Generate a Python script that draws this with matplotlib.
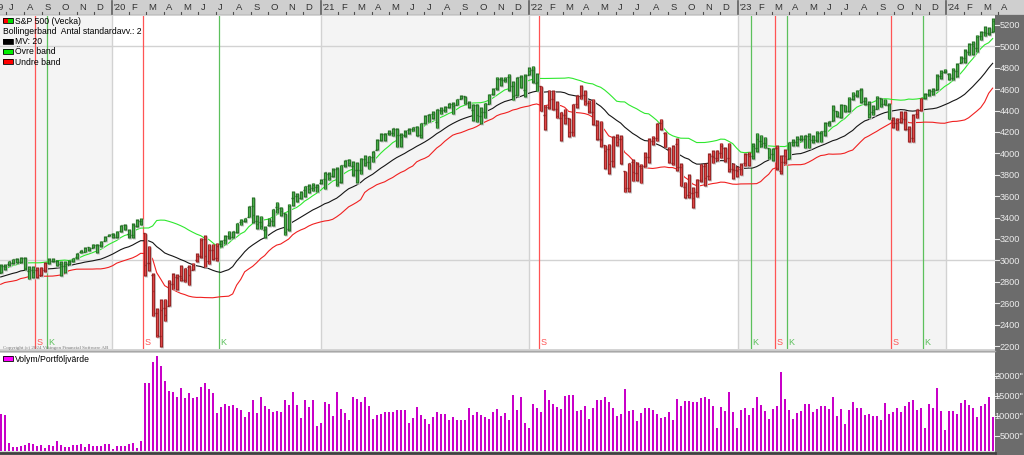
import numpy as np
import pandas as pd
import matplotlib
matplotlib.use('Agg')
import matplotlib.pyplot as plt
import matplotlib.dates as mdates
from matplotlib.patches import Rectangle
from matplotlib.lines import Line2D
from matplotlib.transforms import blended_transform_factory

plt.rcParams['font.family'] = ['Liberation Sans', 'DejaVu Sans']

# S&P 500, weekly bars (week ending Friday)
first_week = '2019-06-21'

# closes of the 19 weeks before the first bar, only used to start the bands
pre_close = [2708, 2776, 2793, 2804, 2743, 2822, 2801, 2834, 2893, 2907,
             2905, 2940, 2946, 2881, 2860, 2826, 2752, 2873, 2887]

open_ = [2886, 2952, 2971, 2980, 3017, 2982, 3024, 2898, 2907, 2913,
         2866, 2910, 2980, 2996, 2991, 2967, 2944, 2965, 2996, 3031,
         3078, 3080, 3123, 3117, 3143, 3142, 3183, 3227, 3247, 3218,
         3273, 3333, 3248, 3235, 3318, 3370, 3258, 2974, 2863, 2509,
         2290, 2555, 2578, 2782, 2845, 2854, 2815, 2937, 2914, 3004,
         3038, 3199, 2993, 3094, 3018, 3155, 3191, 3224, 3219, 3270,
         3356, 3368, 3402, 3508, 3370, 3363, 3285, 3334, 3367, 3500,
         3493, 3441, 3296, 3583, 3600, 3579, 3654, 3698, 3675, 3684,
         3723, 3764, 3803, 3791, 3856, 3731, 3893, 3939, 3885, 3842,
         3844, 3943, 3917, 3969, 4034, 4125, 4185, 4193, 4191, 4229,
         4169, 4168, 4216, 4229, 4248, 4174, 4285, 4356, 4372, 4296,
         4409, 4406, 4438, 4464, 4450, 4513, 4536, 4469, 4402, 4448,
         4348, 4385, 4463, 4553, 4610, 4697, 4689, 4712, 4633, 4549,
         4710, 4588, 4733, 4778, 4655, 4632, 4356, 4432, 4505, 4412,
         4332, 4363, 4328, 4202, 4462, 4541, 4547, 4474, 4385, 4270,
         4130, 4082, 4039, 3928, 4151, 4135, 3838, 3675, 3920, 3815,
         3880, 3883, 3966, 4113, 4140, 4281, 4195, 4041, 3910, 4084,
         3875, 3682, 3609, 3630, 3638, 3753, 3881, 3788, 3978, 3956,
         4006, 4053, 3954, 3853, 3843, 3853, 3911, 3999, 3979, 4053,
         4120, 4097, 4053, 3992, 4055, 3835, 3916, 3950, 4102, 4110,
         4137, 4132, 4166, 4124, 4127, 4191, 4205, 4282, 4304, 4396,
         4344, 4450, 4398, 4505, 4543, 4588, 4492, 4460, 4389, 4415,
         4515, 4463, 4454, 4310, 4284, 4289, 4320, 4226, 4140, 4364,
         4407, 4516, 4555, 4587, 4593, 4725, 4758, 4745, 4703, 4772,
         4848, 4892, 4950, 5026, 4989, 5094, 5132, 5124, 5139]

high = [2964, 2964, 2996, 3017, 3020, 3028, 3028, 2945, 2943, 2939,
        2941, 2985, 3021, 3022, 3002, 2993, 2993, 3003, 3027, 3067,
        3098, 3121, 3128, 3155, 3155, 3183, 3226, 3248, 3258, 3276,
        3330, 3338, 3294, 3347, 3385, 3393, 3260, 3137, 2882, 2555,
        2637, 2641, 2818, 2880, 2869, 2955, 2933, 2954, 2980, 3068,
        3211, 3233, 3156, 3155, 3165, 3190, 3238, 3279, 3272, 3352,
        3388, 3400, 3509, 3588, 3425, 3419, 3320, 3398, 3482, 3550,
        3502, 3441, 3529, 3646, 3628, 3645, 3699, 3712, 3727, 3712,
        3760, 3827, 3823, 3861, 3871, 3894, 3937, 3950, 3929, 3915,
        3960, 3983, 3978, 4020, 4130, 4191, 4194, 4218, 4238, 4236,
        4187, 4219, 4234, 4249, 4257, 4287, 4356, 4372, 4394, 4415,
        4430, 4441, 4469, 4481, 4513, 4545, 4536, 4486, 4465, 4466,
        4429, 4475, 4559, 4608, 4718, 4714, 4718, 4744, 4672, 4713,
        4731, 4740, 4808, 4819, 4749, 4632, 4454, 4595, 4590, 4489,
        4389, 4416, 4329, 4465, 4546, 4637, 4593, 4500, 4513, 4309,
        4307, 4082, 4091, 4158, 4177, 4168, 3838, 3913, 3946, 3919,
        3903, 4012, 4140, 4167, 4281, 4325, 4203, 4062, 4077, 4140,
        3907, 3736, 3806, 3685, 3762, 3902, 3911, 4001, 4028, 4034,
        4101, 4060, 4101, 3906, 3878, 3906, 4003, 4015, 4095, 4195,
        4176, 4156, 4053, 4048, 4079, 3981, 4039, 4110, 4133, 4163,
        4169, 4170, 4186, 4170, 4213, 4212, 4290, 4299, 4448, 4400,
        4458, 4456, 4528, 4578, 4594, 4607, 4527, 4490, 4448, 4541,
        4518, 4511, 4469, 4339, 4333, 4394, 4393, 4256, 4366, 4415,
        4521, 4562, 4598, 4609, 4738, 4778, 4793, 4755, 4802, 4842,
        4907, 4975, 5030, 5048, 5111, 5140, 5190, 5180, 5261]

low = [2882, 2912, 2952, 2967, 2975, 2976, 2914, 2822, 2840, 2835,
       2856, 2891, 2964, 2985, 2946, 2856, 2884, 2960, 2984, 3013,
       3066, 3076, 3091, 3115, 3070, 3125, 3180, 3226, 3212, 3214,
       3263, 3280, 3214, 3214, 3315, 3328, 2855, 2902, 2479, 2280,
       2192, 2431, 2575, 2729, 2727, 2812, 2797, 2766, 2914, 2987,
       3025, 2936, 2965, 3007, 2999, 3128, 3152, 3200, 3205, 3260,
       3329, 3359, 3401, 3349, 3293, 3292, 3209, 3323, 3323, 3440,
       3419, 3234, 3279, 3511, 3543, 3570, 3594, 3633, 3647, 3636,
       3718, 3663, 3750, 3784, 3694, 3725, 3874, 3885, 3789, 3723,
       3805, 3885, 3853, 3917, 4034, 4118, 4118, 4170, 4160, 4056,
       4061, 4155, 4183, 4206, 4164, 4144, 4272, 4292, 4321, 4233,
       4367, 4385, 4424, 4367, 4450, 4513, 4457, 4427, 4305, 4289,
       4279, 4329, 4459, 4546, 4595, 4630, 4663, 4585, 4496, 4532,
       4607, 4531, 4733, 4662, 4582, 4395, 4223, 4414, 4401, 4327,
       4115, 4279, 4157, 4161, 4425, 4507, 4450, 4381, 4267, 4125,
       4062, 3858, 3810, 3876, 4073, 3900, 3637, 3640, 3738, 3742,
       3722, 3871, 3911, 4080, 4112, 4218, 4057, 3907, 3887, 3837,
       3693, 3585, 3584, 3491, 3590, 3733, 3699, 3753, 3906, 3933,
       3956, 3919, 3827, 3764, 3784, 3795, 3878, 3885, 3950, 4015,
       4060, 4048, 3943, 3928, 3846, 3809, 3899, 3950, 4069, 4072,
       4114, 4049, 4048, 4099, 4109, 4103, 4166, 4255, 4304, 4340,
       4329, 4385, 4390, 4502, 4527, 4474, 4456, 4335, 4356, 4411,
       4430, 4448, 4320, 4238, 4217, 4284, 4223, 4104, 4103, 4329,
       4393, 4510, 4537, 4546, 4593, 4695, 4751, 4682, 4682, 4714,
       4845, 4845, 4918, 4920, 4946, 5057, 5093, 5104, 5138]

close = [2950, 2942, 2990, 3014, 2977, 3026, 2932, 2919, 2889, 2847,
         2926, 2979, 3007, 2992, 2961, 2952, 2970, 2986, 3023, 3067,
         3093, 3120, 3110, 3141, 3146, 3169, 3221, 3240, 3235, 3265,
         3330, 3295, 3226, 3328, 3380, 3338, 2954, 2972, 2711, 2305,
         2541, 2489, 2790, 2875, 2837, 2831, 2930, 2864, 2955, 3044,
         3194, 3041, 3098, 3009, 3130, 3185, 3225, 3216, 3271, 3351,
         3373, 3397, 3508, 3427, 3341, 3319, 3298, 3348, 3477, 3483,
         3465, 3270, 3509, 3585, 3558, 3638, 3699, 3663, 3709, 3703,
         3756, 3825, 3768, 3841, 3714, 3887, 3934, 3907, 3811, 3842,
         3943, 3913, 3975, 4020, 4129, 4185, 4180, 4181, 4233, 4174,
         4156, 4204, 4230, 4247, 4166, 4281, 4352, 4370, 4327, 4412,
         4395, 4437, 4468, 4442, 4509, 4535, 4459, 4433, 4455, 4357,
         4391, 4471, 4545, 4605, 4697, 4683, 4698, 4595, 4538, 4712,
         4621, 4726, 4766, 4677, 4663, 4398, 4432, 4501, 4419, 4349,
         4385, 4329, 4204, 4463, 4543, 4546, 4488, 4393, 4272, 4132,
         4123, 4024, 3901, 4158, 4109, 3901, 3675, 3912, 3825, 3899,
         3863, 3962, 4130, 4145, 4280, 4228, 4058, 3924, 4067, 3873,
         3693, 3586, 3640, 3583, 3753, 3901, 3771, 3993, 3965, 4026,
         4072, 3934, 3852, 3845, 3840, 3895, 3999, 3973, 4071, 4136,
         4090, 4079, 3970, 4046, 3862, 3917, 3971, 4109, 4105, 4138,
         4133, 4169, 4136, 4124, 4192, 4205, 4282, 4299, 4410, 4348,
         4450, 4399, 4505, 4536, 4582, 4478, 4464, 4370, 4406, 4516,
         4457, 4450, 4320, 4288, 4308, 4327, 4224, 4117, 4358, 4415,
         4514, 4559, 4595, 4604, 4719, 4755, 4770, 4697, 4784, 4840,
         4891, 4959, 5027, 5006, 5089, 5137, 5124, 5117, 5234]

volume = [10500, 10250, 3250, 2170, 2340, 2510, 2840, 3250, 2920, 2590,
          2670, 2090, 2670, 2590, 3760, 2670, 2340, 2340, 2750, 2750,
          2920, 2340, 2920, 2510, 2510, 2510, 2920, 2920, 1760, 2590,
          2510, 2510, 2920, 3250, 2090, 3670, 18250, 18250, 23580, 24920,
          22500, 18830, 16250, 16090, 14840, 16920, 14500, 15750, 14500, 14670,
          17250, 18250, 16670, 15840, 10670, 12250, 12920, 12500, 12670, 12000,
          11420, 9670, 10920, 13920, 10670, 14670, 12420, 11670, 11000, 11250,
          11090, 13920, 12670, 15920, 12670, 9500, 14090, 12250, 13920, 7500,
          8250, 13500, 12920, 9920, 15920, 11670, 10670, 8920, 14670, 14250,
          13500, 14670, 12420, 9250, 10250, 10500, 10920, 11090, 10920, 11420,
          11420, 11420, 8250, 9500, 12250, 10250, 9250, 7920, 9670, 11090,
          10420, 10420, 8920, 9670, 8920, 9090, 8920, 12090, 10250, 11090,
          10250, 9670, 9250, 10920, 11670, 10080, 10670, 8920, 15250, 11500,
          14840, 8250, 7090, 12920, 12090, 11090, 16500, 14090, 13090, 12250,
          11670, 15090, 15250, 15250, 11250, 11500, 12500, 9250, 12090, 13920,
          13920, 14670, 13500, 11920, 10080, 10420, 16670, 11250, 11500, 8670,
          10670, 11920, 12090, 11500, 10500, 9500, 9670, 11090, 8920, 14250,
          12500, 13670, 13670, 13500, 13500, 14420, 14670, 14250, 12500, 6920,
          12250, 11250, 15920, 10920, 7090, 11500, 11920, 10250, 12090, 14670,
          12670, 11250, 9250, 11670, 12500, 20920, 14250, 11500, 9250, 10670,
          11250, 12920, 12920, 11090, 11670, 12500, 12500, 11670, 14670, 10080,
          11670, 7920, 11500, 13500, 11920, 11920, 10250, 10500, 9920, 9920,
          8920, 13250, 10500, 11090, 12090, 11090, 12500, 13500, 13920, 11500,
          12090, 7090, 12920, 12090, 17090, 11250, 6500, 11250, 11250, 10420,
          13250, 13920, 12670, 12090, 9670, 12500, 13090, 14840, 9670]

# signal weeks (bar index): S = sell, K = buy
sell_weeks = [9, 36, 135, 194, 223]
buy_weeks = [12, 55, 188, 197, 231]

mv_period = 20
band_width = 1.0   # the drawn bands sit one standard deviation from the MV line

price_ticks = list(range(2200, 5201, 200))
vol_ticks = [20000, 15000, 10000, 5000]
month_letters = ['J', 'F', 'M', 'A', 'M', 'J', 'J', 'A', 'S', 'O', 'N', 'D']

# ---------------------------------------------------------------
dates = pd.date_range(first_week, periods=len(close), freq='7D')
x = mdates.date2num(dates)

allc = pd.Series(pre_close + close, dtype=float)
n_pre = len(pre_close)
mv = allc.rolling(mv_period).mean().values[n_pre:]
sd = allc.rolling(mv_period).std(ddof=0).values[n_pre:]
upper = mv + band_width * sd
lower = mv - band_width * sd

W, H = 1024, 456
fig = plt.figure(figsize=(W / 100, H / 100), dpi=100, facecolor='#d4d4d4')


def rect(x0, y0, x1, y1):
    return [x0 / W, 1 - y1 / H, (x1 - x0) / W, (y1 - y0) / H]


DPX = 7 / 4.0  # days per pixel
xl = x[0] - 0.67 * DPX
xr_main = xl + 995 * DPX
xr_full = xl + W * DPX

ax = fig.add_axes(rect(0, 17, 995, 350))
axv = fig.add_axes(rect(0, 354, 995, 452))
axt = fig.add_axes(rect(0, 0, W, 16))
axr = fig.add_axes(rect(995, 16, W, H))

for a in (ax, axv, axt, axr):
    a.set_xticks([])
    a.set_yticks([])
    for s in a.spines.values():
        s.set_visible(False)

# ---- main price panel ----
ax.set_facecolor('white')
ax.set_xlim(xl, xr_main)
ax.set_ylim(2172, 5284)

for yr in range(2019, 2025):
    y0 = mdates.date2num(pd.Timestamp(f'{yr}-01-01'))
    y1 = mdates.date2num(pd.Timestamp(f'{yr + 1}-01-01'))
    if yr % 2 == 1:
        ax.axvspan(y0, y1, color='#f4f4f4', lw=0, zorder=0)
    if yr > 2019:
        ax.axvline(y0, color='#d2d2d2', lw=1, zorder=1)
for lvl in (3000, 5000):
    ax.axhline(lvl, color='#d2d2d2', lw=1, zorder=1)

# signal lines
sig_red, sig_green = '#ff5454', '#5cc05c'
for i in sell_weeks:
    xs = x[i] - 2 * DPX
    ax.axvline(xs, color=sig_red, lw=0.9, zorder=2)
    ax.text(xs + 1.5 * DPX, 2238, 'S', color=sig_red, fontsize=6.5, va='center', ha='left', zorder=6)
for i in buy_weeks:
    xs = x[i] - 2 * DPX
    ax.axvline(xs, color=sig_green, lw=0.9, zorder=2)
    ax.text(xs + 1.5 * DPX, 2238, 'K', color=sig_green, fontsize=6.5, va='center', ha='left', zorder=6)

# bollinger bands
ax.plot(x, upper, color='#2ee82e', lw=0.8, zorder=3)
ax.plot(x, mv, color='#151515', lw=0.8, zorder=3)
ax.plot(x, lower, color='#f02020', lw=0.8, zorder=3)

# bar colours follow the signals
state = 'buy'
body, edge = [], []
for i in range(len(close)):
    if i in sell_weeks:
        state = 'sell'
    if i in buy_weeks:
        state = 'buy'
    if state == 'buy':
        body.append('#4cb04c'); edge.append('#226a22')
    else:
        body.append('#e04848'); edge.append('#8c2020')

o = np.array(open_, float); h = np.array(high, float)
l = np.array(low, float); c = np.array(close, float)
ypx = (5284 - 2172) / 333.0
ax.vlines(x + 1.0 * DPX, l - ypx, h - ypx, color='#c8c8c8', lw=2.2, zorder=4)
ax.vlines(x, l, h, color=edge, lw=2.3, zorder=5)
ax.vlines(x, l + 0.6 * ypx, h - 0.6 * ypx, color=body, lw=1.0, zorder=5)
ax.hlines(o, x - 1.6 * DPX, x, color=edge, lw=1.0, zorder=5)
ax.hlines(c, x, x + 1.6 * DPX, color=edge, lw=1.0, zorder=5)

# ---- volume panel ----
axv.set_facecolor('white')
axv.set_xlim(xl, xr_main)
axv.set_ylim(1250, 25750)
axv.bar(x, volume, width=2.3 * DPX, bottom=0, color='#c800c8', lw=0, zorder=3)
axv.bar(x - 0.7 * DPX, volume, width=0.6 * DPX, bottom=0, color='#ee66ee', lw=0, zorder=4)

# ---- top date strip ----
axt.set_facecolor('#cfcfcf')
axt.set_xlim(xl, xr_full)
axt.set_ylim(0, 16)
axt.axhline(0.5, color='#8a8a8a', lw=1)
months = pd.date_range('2019-06-01', '2024-04-01', freq='MS')
for m in months:
    mx = mdates.date2num(m)
    if m.month == 1:
        axt.plot([mx, mx], [1, 14], color='#606060', lw=1.2)
        axt.text(mx + 1.5 * DPX, 8.5, "'" + str(m.year)[2:], fontsize=6.8, color='#333333',
                 va='center', ha='left')
    elif m > dates[0]:
        axt.plot([mx, mx], [1, 3.5], color='#505050', lw=0.8)
        axt.text(mx + 2.5 * DPX, 8.5, month_letters[m.month - 1], fontsize=6.8, color='#333333',
                 va='center', ha='left')
axt.text(xl + 3.5 * DPX, 8.5, "'19", fontsize=6.8, color='#333333', va='center', ha='right')

# ---- right scale panel ----
axr.set_facecolor('#6c6c6c')
tr = blended_transform_factory(fig.transFigure, ax.transData)
for v in price_ticks:
    fig.add_artist(Line2D([995 / W, 999 / W], [v, v], transform=tr, color='#e8e8e8', lw=0.8))
    fig.text(1020 / W, v, str(v), transform=tr, fontsize=6.6, color='#ececec', ha='right', va='center')
trv = blended_transform_factory(fig.transFigure, axv.transData)
for v in vol_ticks:
    fig.add_artist(Line2D([995 / W, 999 / W], [v, v], transform=trv, color='#e8e8e8', lw=0.8))
    fig.text(1023 / W, v, f'{v}"', transform=trv, fontsize=6.6, color='#ececec', ha='right', va='center')

# divider between panels
fig.add_artist(Line2D([0, 995 / W], [1 - 352 / H, 1 - 352 / H], color='#a8a8a8', lw=1))
fig.add_artist(Line2D([0, 995 / W], [1 - 453.5 / H, 1 - 453.5 / H], color='#404040', lw=2))


# ---- legends ----
def swatch(x0, yc, colors):
    w = 10.0 / len(colors)
    for k, col in enumerate(colors):
        fig.add_artist(Rectangle(((x0 + k * w) / W, 1 - (yc + 2.5) / H), w / W, 5 / H,
                                 transform=fig.transFigure, facecolor=col, edgecolor='none'))
    fig.add_artist(Rectangle((x0 / W, 1 - (yc + 2.5) / H), 10 / W, 5 / H,
                             transform=fig.transFigure, facecolor='none', edgecolor='black', lw=0.6))


def label(x0, yc, s):
    fig.text(x0 / W, 1 - yc / H, s, fontsize=6.2, color='black', va='center', ha='left')


swatch(3, 21, ['#ff0000', '#00dd00'])
label(15, 21, 'S&P 500 (Vecka)')
label(3, 31.5, 'Bollingerband  Antal standardavv.: 2')
swatch(3, 42, ['#000000'])
label(15, 42, 'MV: 20')
swatch(3, 52, ['#00ee00'])
label(15, 52, 'Övre band')
swatch(3, 62.5, ['#ff0000'])
label(15, 62.5, 'Undre band')

swatch(3, 359.5, ['#ff00ff'])
label(15, 359.5, 'Volym/Portföljvärde')

fig.text(3 / W, 1 - 348 / H, 'Copyright (c) 2024 Vikingen Financial Software AB',
         fontsize=3.6, color='#777777', family=['Liberation Serif', 'DejaVu Serif'],
         va='center', ha='left')

fig.savefig('out.png', dpi=100, facecolor=fig.get_facecolor())
